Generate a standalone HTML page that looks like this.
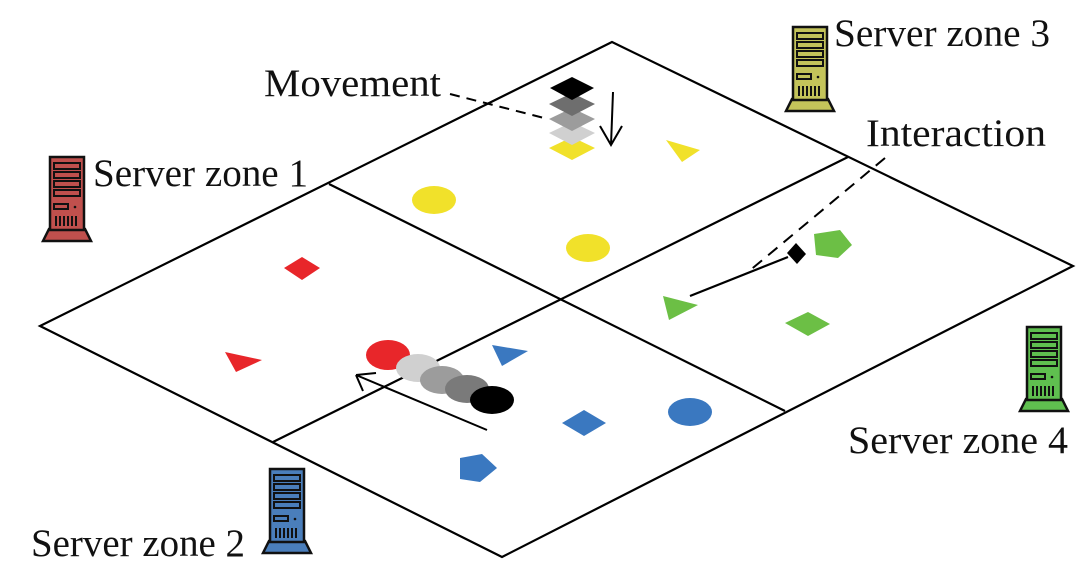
<!DOCTYPE html>
<html><head><meta charset="utf-8"><style>
html,body{margin:0;padding:0;background:#fff;}
svg{display:block;}
text{font-family:"Liberation Serif",serif;font-size:39px;fill:#111;}
</style></head><body>
<svg width="1089" height="580" viewBox="0 0 1089 580">
<defs>
<g id="srv">
  <path d="M2 86 L8 74 L44 74 L50 86 Z" stroke="#111" stroke-width="2.5"/>
  <rect x="9" y="2" width="34" height="73" stroke="#111" stroke-width="2.5"/>
  <rect x="13" y="8" width="26" height="6" fill="none" stroke="#111" stroke-width="2"/>
  <rect x="13" y="17" width="26" height="6" fill="none" stroke="#111" stroke-width="2"/>
  <rect x="13" y="26" width="26" height="6" fill="none" stroke="#111" stroke-width="2"/>
  <rect x="13" y="35" width="26" height="6" fill="none" stroke="#111" stroke-width="2"/>
  <rect x="13" y="49" width="14" height="5" fill="none" stroke="#111" stroke-width="2"/>
  <circle cx="34" cy="52" r="1.3" fill="#111"/>
  <path d="M15 61v10M19 61v10M23 61v10M27 61v10M31 61v10M35 61v10" stroke="#111" stroke-width="2"/>
</g>
</defs>
<g fill="none" stroke="#000" stroke-width="2.2">
  <path d="M612 42 L1073 266 L502 557 L40 326 Z"/>
  <path d="M329 184 L785 411"/>
  <path d="M848 157 L273 442"/>
</g>
<use href="#srv" x="41" y="155" fill="#c0504d"/>
<use href="#srv" x="261" y="467" fill="#4a7ebb"/>
<use href="#srv" x="784" y="25" fill="#c3c35a"/>
<use href="#srv" x="1018" y="325" fill="#5fbf4f"/>
<text x="93" y="186" textLength="215" lengthAdjust="spacingAndGlyphs">Server zone 1</text>
<text x="31" y="556" textLength="214" lengthAdjust="spacingAndGlyphs">Server zone 2</text>
<text x="834" y="46" textLength="216" lengthAdjust="spacingAndGlyphs">Server zone 3</text>
<text x="848" y="453" textLength="220" lengthAdjust="spacingAndGlyphs">Server zone 4</text>
<text x="264" y="96" textLength="177" lengthAdjust="spacingAndGlyphs">Movement</text>
<text x="866" y="146" textLength="180" lengthAdjust="spacingAndGlyphs">Interaction</text>
<path d="M450 94 L548 119" stroke="#000" stroke-width="2" stroke-dasharray="10,7" fill="none"/>
<path d="M549 148 L572 137 L595 148 L572 160 Z" fill="#f1e12a"/>
<path d="M549 133 L572 122 L595 133 L572 145 Z" fill="#d0d0d0"/>
<path d="M549 119 L572 108 L595 119 L572 131 Z" fill="#9c9c9c"/>
<path d="M549 104 L572 93 L595 104 L572 116 Z" fill="#6e6e6e"/>
<path d="M550 88 L572 77 L594 88 L572 100 Z" fill="#000"/>
<path d="M613 92 L611 145 M600 126 L611 145 L622 126" stroke="#000" stroke-width="2" fill="none"/>
<path d="M666 140 L700 150 L682 162 Z" fill="#f1e12a"/>
<ellipse cx="434" cy="200" rx="22" ry="14" fill="#f1e12a"/>
<ellipse cx="588" cy="248" rx="22" ry="14" fill="#f1e12a"/>
<path d="M284 268 L302 257 L320 268 L302 280 Z" fill="#e8262a"/>
<path d="M225 352 L262 360 L236 372 Z" fill="#e8262a"/>
<path d="M492 345 L528 351 L502 366 Z" fill="#3a78c0"/>
<path d="M562 423 L584 410 L606 423 L584 436 Z" fill="#3a78c0"/>
<ellipse cx="690" cy="412" rx="22" ry="14" fill="#3a78c0"/>
<path d="M460 458 L482 454 L497 468 L480 482 L460 479 Z" fill="#3a78c0"/>
<ellipse cx="388" cy="355" rx="22" ry="15" fill="#e8262a"/>
<ellipse cx="418" cy="368" rx="22" ry="14" fill="#d0d0d0"/>
<ellipse cx="442" cy="380" rx="22" ry="14" fill="#9c9c9c"/>
<ellipse cx="467" cy="389" rx="22" ry="14" fill="#7a7a7a"/>
<ellipse cx="492" cy="400" rx="22" ry="14" fill="#000"/>
<path d="M487 430 L356 375 M356 375 L376 373 M356 375 L363 391" stroke="#000" stroke-width="2" fill="none"/>
<path d="M814 234 L840 230 L852 245 L838 258 L816 255 Z" fill="#6cbf45"/>
<path d="M663 296 L698 305 L669 320 Z" fill="#6cbf45"/>
<path d="M785 323 L808 312 L830 324 L808 336 Z" fill="#6cbf45"/>
<path d="M690 296 L788 257" stroke="#000" stroke-width="2.2"/>
<path d="M787 253 L796 243 L806 254 L797 264 Z" fill="#000"/>
<path d="M885 158 L748 272" stroke="#000" stroke-width="2" stroke-dasharray="12,8"/>
</svg>
</body></html>
